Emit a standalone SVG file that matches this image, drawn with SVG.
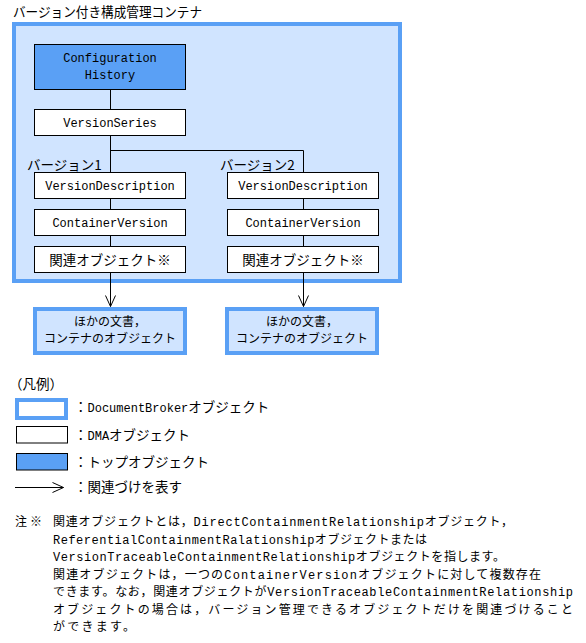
<svg xmlns="http://www.w3.org/2000/svg" width="586" height="643" viewBox="0 0 586 643">
<style>
.j{font-family:'Noto Sans CJK JP',sans-serif;font-size:13.5px;fill:#000}
.js{font-family:'Noto Sans CJK JP',sans-serif;font-size:12px;fill:#000}
.l{font-family:'Liberation Mono','DejaVu Sans Mono',monospace;font-size:12px;fill:#000}
.nj{font-family:'Noto Sans CJK JP',sans-serif;font-size:12px;fill:#000}
.nl{font-family:'Liberation Mono','DejaVu Sans Mono',monospace;font-size:12px;fill:#000}
.box{fill:#fff;stroke:#000;stroke-width:1}
.top{fill:#5aa0f5;stroke:#000;stroke-width:1}
.db{fill:#d0e4ff;stroke:#5aa0f5;stroke-width:4}
.ln{fill:none;stroke:#000;stroke-width:1}
.c{text-anchor:middle}
</style>
<defs>
<marker id="ah" viewBox="-1 -6 13 12" refX="11" refY="0" markerWidth="13" markerHeight="12" markerUnits="userSpaceOnUse" orient="auto">
<path d="M0,-5 L11,0 L0,5" fill="none" stroke="#000" stroke-width="1"/>
</marker>
</defs>

<text class="j" x="13" y="17" textLength="189" lengthAdjust="spacingAndGlyphs">バージョン付き構成管理コンテナ</text>

<g id="container">
<rect class="db" x="14" y="24" width="386" height="257"/>
</g>

<g id="connectors">
<path class="ln" d="M110.5,89.5 V109.5 M110.5,135.5 V172.5 M110.5,150.5 H303.5 V172.5 M110.5,198.5 V209.5 M110.5,235.5 V246.5 M303.5,198.5 V209.5 M303.5,235.5 V246.5"/>
<path class="ln" d="M110.5,272.5 V306.5" marker-end="url(#ah)"/>
<path class="ln" d="M303.5,272.5 V306.5" marker-end="url(#ah)"/>
</g>

<g id="config-history">
<rect class="top" x="34.5" y="44.5" width="151" height="45"/>
<text class="l c" x="110" y="62">Configuration</text>
<text class="l c" x="110" y="79">History</text>
</g>
<g id="version-series">
<rect class="box" x="34.5" y="109.5" width="151" height="26"/>
<text class="l c" x="110" y="127">VersionSeries</text>
</g>

<g id="version1-label"><text class="j" x="27" y="170">バージョン1</text></g>
<g id="version2-label"><text class="j" x="220" y="170">バージョン2</text></g>

<g id="vd1">
<rect class="box" x="34.5" y="172.5" width="151" height="26"/>
<text class="l c" x="110" y="190">VersionDescription</text>
</g>
<g id="cv1">
<rect class="box" x="34.5" y="209.5" width="151" height="26"/>
<text class="l c" x="110" y="227">ContainerVersion</text>
</g>
<g id="rel1">
<rect class="box" x="34.5" y="246.5" width="151" height="26"/>
<text class="j c" x="110" y="264.5">関連オブジェクト※</text>
</g>

<g id="vd2">
<rect class="box" x="227.5" y="172.5" width="151" height="26"/>
<text class="l c" x="303" y="190">VersionDescription</text>
</g>
<g id="cv2">
<rect class="box" x="227.5" y="209.5" width="151" height="26"/>
<text class="l c" x="303" y="227">ContainerVersion</text>
</g>
<g id="rel2">
<rect class="box" x="227.5" y="246.5" width="151" height="26"/>
<text class="j c" x="303" y="264.5">関連オブジェクト※</text>
</g>

<g id="other1">
<rect class="db" x="35" y="309" width="150" height="44"/>
<text class="js c" x="110" y="326">ほかの文書，</text>
<text class="js c" x="110" y="343">コンテナのオブジェクト</text>
</g>
<g id="other2">
<rect class="db" x="227" y="309" width="150" height="44"/>
<text class="js c" x="302" y="326">ほかの文書，</text>
<text class="js c" x="302" y="343">コンテナのオブジェクト</text>
</g>

<g id="legend">
<text class="j" x="9" y="389">（凡例）</text>
<rect x="17" y="400" width="49" height="18" fill="#fff" stroke="#5aa0f5" stroke-width="4"/>
<text x="74" y="412"><tspan class="j">：</tspan><tspan class="l">DocumentBroker</tspan><tspan class="j">オブジェクト</tspan></text>
<rect class="box" x="16.5" y="426.5" width="51" height="16.5"/>
<text x="74" y="439.5"><tspan class="j">：</tspan><tspan class="l">DMA</tspan><tspan class="j">オブジェクト</tspan></text>
<rect class="top" x="16.5" y="453.5" width="51" height="16.5"/>
<text class="j" x="74" y="467">：トップオブジェクト</text>
<path class="ln" d="M15,487.5 H63.5" marker-end="url(#ah)"/>
<text class="j" x="74" y="492">：関連づけを表す</text>
</g>

<g id="note">
<text class="nj" x="15" y="526" textLength="27" lengthAdjust="spacing">注※</text>
<text x="53" y="526" textLength="460" lengthAdjust="spacing"><tspan class="nj">関連オブジェクトとは，</tspan><tspan class="nl">DirectContainmentRelationship</tspan><tspan class="nj">オブジェクト，</tspan></text>
<text x="53" y="543.5" textLength="374" lengthAdjust="spacing"><tspan class="nl">ReferentialContainmentRalationship</tspan><tspan class="nj">オブジェクトまたは</tspan></text>
<text x="53" y="561" textLength="452" lengthAdjust="spacing"><tspan class="nl">VersionTraceableContainmentRelationship</tspan><tspan class="nj">オブジェクトを指します。</tspan></text>
<text x="53" y="578.5" textLength="488" lengthAdjust="spacing"><tspan class="nj">関連オブジェクトは，一つの</tspan><tspan class="nl">ContainerVersion</tspan><tspan class="nj">オブジェクトに対して複数存在</tspan></text>
<text x="53" y="596" textLength="520" lengthAdjust="spacing"><tspan class="nj">できます。なお，関連オブジェクトが</tspan><tspan class="nl">VersionTraceableContainmentRelationship</tspan></text>
<text class="nj" x="53" y="613.5" textLength="520" lengthAdjust="spacing">オブジェクトの場合は，バージョン管理できるオブジェクトだけを関連づけること</text>
<text class="nj" x="53" y="631" textLength="82" lengthAdjust="spacing">ができます。</text>
</g>
</svg>
